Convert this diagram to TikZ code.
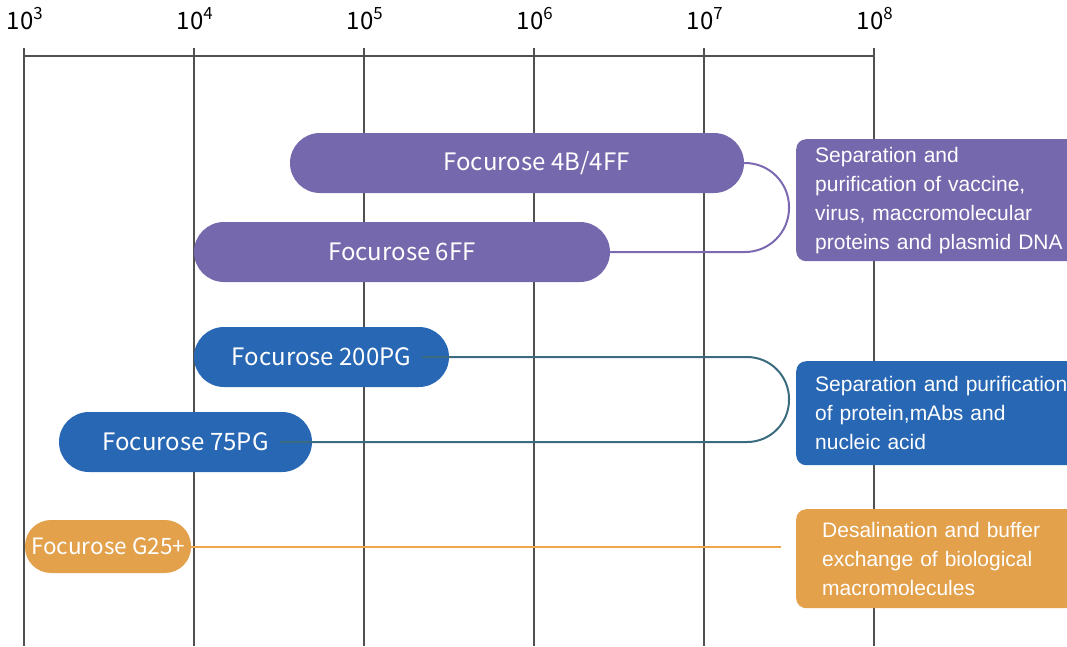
\documentclass[tikz,border=0pt]{standalone}
\usepackage{fontspec}
\setmainfont{Liberation Sans}
\newfontfamily\cjk{Noto Sans CJK SC}

\definecolor{fpurple}{HTML}{7668AD}
\definecolor{fblue}{HTML}{2767B4}
\definecolor{forange}{HTML}{E3A14C}
\definecolor{fteal}{HTML}{3B6B7F}
\definecolor{fplink}{HTML}{7B69B1}
\definecolor{folink}{HTML}{F0A54A}
\definecolor{fgrid}{HTML}{505050}

\tikzset{
    gridline/.style={fgrid,line width=1.4pt},
    pill/.style={rounded corners=30pt,inner sep=0pt,text=white,font=\cjk\fontsize{24}{28}\selectfont},
    appbox/.style={rounded corners=10pt,anchor=north west,inner ysep=0pt,text=white,align=left,
        font=\fontsize{21}{29}\selectfont},
    link/.style={line width=2pt}
}

\begin{document}
\begin{tikzpicture}[x=1pt,y=-1pt]
    \useasboundingbox (0,0) rectangle (1067,646);
    \clip (0,0) rectangle (1067,646);
    % scale of sizes
    \draw[gridline] (24,56)--(874,56);
    \foreach \i/\e in {0/3,1/4,2/5,3/6,4/7,5/8}{
        \draw[gridline] (24+170*\i,48)--(24+170*\i,646);
        \node[anchor=base,font=\cjk\fontsize{24}{28}\selectfont] (exp\e) at (25+170*\i,29) {10\textsuperscript{\e}};
    }
    % media
    \node[pill,fill=fpurple,minimum width=454pt,minimum height=60pt] (f4b) at (517,163) {\hspace*{39pt}Focurose 4B/4FF};
    \node[pill,fill=fpurple,minimum width=416pt,minimum height=60pt] (f6ff) at (402,252) {Focurose 6FF};
    \node[pill,fill=fblue,minimum width=255pt,minimum height=60pt] (f200) at (321.5,357) {Focurose 200PG};
    \node[pill,fill=fblue,minimum width=253pt,minimum height=60pt] (f75) at (185.5,442) {Focurose 75PG};
    \node[pill,fill=forange,minimum width=166pt,minimum height=53pt,rounded corners=26pt,
        font=\cjk\fontsize{22.5}{26}\selectfont] (g25) at (108,546.5) {Focurose G25+};
    % applications
    \node[appbox,fill=fpurple,minimum width=294pt,minimum height=122pt,inner xsep=19pt,text width=256pt] (usebig) at (796,139)
        {Separation and\\purification of vaccine,\\virus, maccromolecular\\proteins and plasmid DNA};
    \node[appbox,fill=fblue,minimum width=294pt,minimum height=104pt,inner xsep=19pt,text width=256pt] (useprot) at (796,361)
        {Separation and purification\\of protein,mAbs and\\nucleic acid};
    \node[appbox,fill=forange,minimum width=294pt,minimum height=99pt,inner xsep=26pt,text width=242pt] (usesalt) at (796,509)
        {Desalination and buffer\\exchange of biological\\macromolecules};
    % links
    \draw[link,fplink,rounded corners=44pt] (f4b.east)--(789,163)--(789,252)--(f6ff.east);
    \draw[link,fteal,rounded corners=42pt] ([xshift=-27pt]f200.east)--(789,357)--(789,442)--([xshift=-32pt]f75.east);
    \coordinate (g25end) at (781,546.5);
    \draw[link,folink] (g25.east)--(g25end);
\end{tikzpicture}
\end{document}
